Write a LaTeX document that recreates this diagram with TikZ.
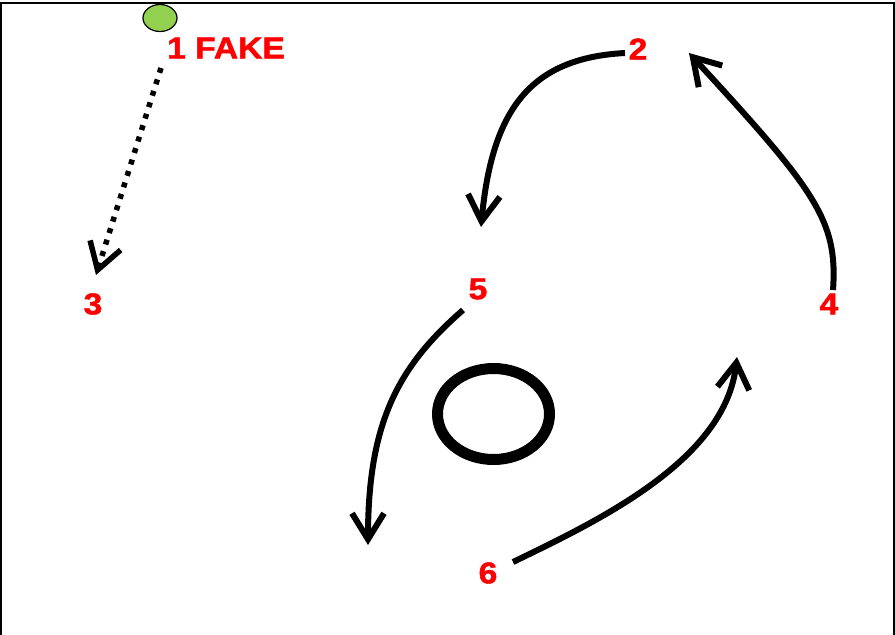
\documentclass[tikz,border=0pt]{standalone}
\usepackage{fontspec}
\usetikzlibrary{shapes, arrows.meta}
\newfontfamily\playfont[FakeStretch=1.12, FakeBold=1.6]{Liberation Sans}

\begin{document}
\begin{tikzpicture}[x=1pt, y=-1pt, tag/.style={text=red, font=\playfont\bfseries\fontsize{30}{30}\selectfont, inner sep=0pt}, route/.style={line width=6pt, -{Straight Barb[length=26pt, width=32pt]}}]
  \useasboundingbox (0,0) rectangle (895,635);
  \draw[line width=1.5pt] (1,635) -- (1,3) -- (894,3) -- (894,635);
  \node[ellipse, draw, fill={rgb,255:red,146;green,208;blue,80}, line width=1.2pt, minimum width=34pt, minimum height=27pt, inner sep=0pt] (ball) at (160,18) {};
  \node[tag] (p1) at (226,48) {1 FAKE};
  \node[tag] (p2) at (638,49) {2};
  \node[tag] (p3) at (93,304) {3};
  \node[tag] (p4) at (829,304) {4};
  \node[tag] (p5) at (478,289) {5};
  \node[tag] (p6) at (488,573) {6};
  \coordinate (1s) at (161,68);
  \coordinate (1e) at (96,275);
  \coordinate (2s) at (625,53);
  \coordinate (2e) at (481,227);
  \coordinate (4s) at (833,290);
  \coordinate (4e) at (689,53);
  \coordinate (5s) at (463,310);
  \coordinate (5e) at (368,545);
  \coordinate (6s) at (513,562);
  \coordinate (6e) at (737,357);
  \draw[route, line width=5.5pt, dash pattern=on 5pt off 7pt] (1s) -- (1e);
  \draw[route] (2s) .. controls (530,58) and (492,110) .. (2e);
  \draw[route] (4s) .. controls (838,220) and (815,190) .. (4e);
  \draw[route] (5s) .. controls (400,365) and (368,420) .. (5e);
  \draw[route] (6s) .. controls (600,520) and (725,460) .. (6e);
  \draw[line width=11pt] (493.5,414) ellipse [x radius=56, y radius=45.5];
\end{tikzpicture}
\end{document}
